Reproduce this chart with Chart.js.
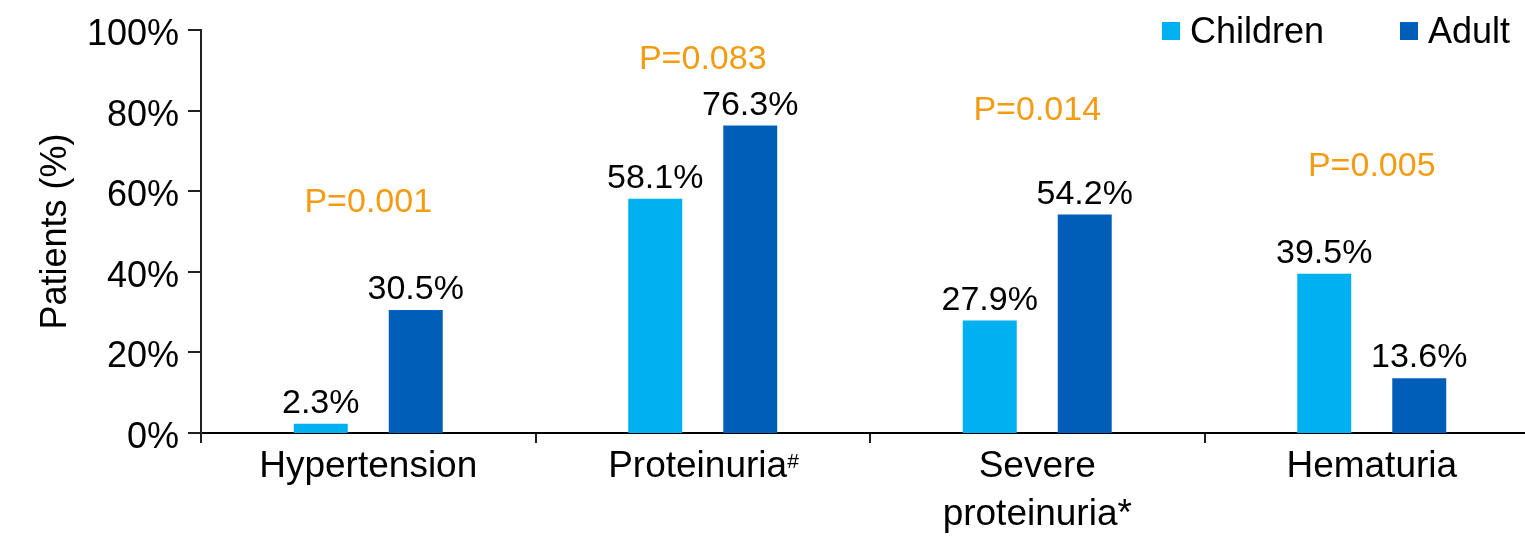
<!DOCTYPE html>
<html>
<head>
<meta charset="utf-8">
<script src="https://cdn.jsdelivr.net/npm/chart.js@4/dist/chart.umd.min.js"></script>
<style>
  html, body { margin: 0; padding: 0; background: #fff; overflow: hidden; }
  #wrap { width: 1540px; height: 537px; }
</style>
</head>
<body>
<div id="wrap"><canvas id="myChart"></canvas></div>
<script>
// chart data
const categories = ['Hypertension', 'Proteinuria ', ['Severe', 'proteinuria*'], 'Hematuria'];
const childrenValues = [2.3, 58.1, 27.9, 39.5];
const adultValues = [30.5, 76.3, 54.2, 13.6];
const pValues = ['P=0.001', 'P=0.083', 'P=0.014', 'P=0.005'];
const yTicks = [0, 20, 40, 60, 80, 100];
const seriesNames = ['Children', 'Adult'];

// layout: baseline level (in %) of each P value
const pLevels = [54.9, 90.3, 77.7, 63.8];

const FONT = "'Liberation Sans', Arial, sans-serif";
const childColor = '#00b0f0';
const adultColor = '#005eb8';
const orange = '#f39c12';
const axisColor = '#231f20';

//draws y tick marks, values above bars, P values, legend and the # mark
const labelPlugin = {
    id: 'labels',
    afterDraw(chart) {
        const ctx = chart.ctx;
        const y = chart.scales.y;
        const x = chart.scales.x;
        ctx.save();

        // y tick marks
        ctx.strokeStyle = axisColor;
        ctx.lineWidth = 2;
        yTicks.forEach(v => {
            const py = Math.round(y.getPixelForValue(v));
            ctx.beginPath();
            ctx.moveTo(y.right - 13, py);
            ctx.lineTo(y.right, py);
            ctx.stroke();
        });

        ctx.font = '34px ' + FONT;
        ctx.textAlign = 'center';
        ctx.textBaseline = 'alphabetic';
        ctx.fillStyle = '#000';
        chart.data.datasets.forEach((ds, i) => {
            chart.getDatasetMeta(i).data.forEach((bar, j) => {
                ctx.fillText(ds.data[j].toFixed(1) + '%', bar.x, bar.y - 11);
            });
        });
        ctx.fillStyle = orange;
        pValues.forEach((p, j) => {
            ctx.fillText(p, x.getPixelForValue(j), y.getPixelForValue(pLevels[j]));
        });

        // superscript # after Proteinuria
        ctx.font = '37px ' + FONT;
        const w = ctx.measureText('Proteinuria ').width;
        ctx.font = '21px ' + FONT;
        ctx.textAlign = 'left';
        ctx.fillStyle = '#000';
        ctx.fillText('#', x.getPixelForValue(1) + w / 2 - 10, 468);

        // legend
        const colors = [childColor, adultColor];
        const boxX = [1162, 1400];
        ctx.font = '36px ' + FONT;
        ctx.textBaseline = 'middle';
        seriesNames.forEach((name, i) => {
            ctx.fillStyle = colors[i];
            ctx.fillRect(boxX[i], 22, 18, 18);
            ctx.fillStyle = '#000';
            ctx.fillText(name, boxX[i] + 28, 33);
        });
        ctx.restore();
    }
};

var ctx = document.getElementById('myChart').getContext('2d');

var myChart = new Chart(ctx, {
    type: 'bar',
    data: {
        labels: categories,
        datasets: [{
            label: seriesNames[0],
            data: childrenValues,
            backgroundColor: childColor
        }, {
            label: seriesNames[1],
            data: adultValues,
            backgroundColor: adultColor
        }]
    },
    options: {
        responsive: true,
        maintainAspectRatio: false,
        animation: false,
        datasets: {
            bar: {
                categoryPercentage: 0.568,
                barPercentage: 0.568
            }
        },
        layout: {
            padding: { top: 30, right: 1, left: 0, bottom: 0 }
        },
        plugins: {
            legend: { display: false },
            tooltip: { enabled: false }
        },
        scales: {
            x: {
                border: { color: '#000', width: 2 },
                grid: {
                    drawOnChartArea: false,
                    tickLength: 10,
                    color: axisColor,
                    lineWidth: 2
                },
                ticks: {
                    color: '#000',
                    padding: 0,
                    maxRotation: 0,
                    font: { family: FONT, size: 37, lineHeight: 1.3 }
                },
                afterFit(scale) {
                    scale.height = 104;
                    scale.paddingLeft = 0;
                    scale.paddingRight = 0;
                }
            },
            y: {
                min: 0,
                max: 100,
                border: { color: axisColor, width: 2 },
                grid: { display: false },
                ticks: {
                    color: '#000',
                    padding: 14,
                    stepSize: 20,
                    labelOffset: 5,
                    font: { family: FONT, size: 36 },
                    callback: v => yTicks.includes(v) ? v + '%' : ''
                },
                title: {
                    display: true,
                    text: 'Patients (%)',
                    color: '#000',
                    font: { family: FONT, size: 36 },
                    padding: { top: 34, bottom: 0 }
                },
                afterFit(scale) {
                    scale.width = 201;
                    scale.paddingTop = 0;
                    scale.paddingBottom = 0;
                }
            }
        }
    },
    plugins: [labelPlugin]
});
</script>
</body>
</html>
